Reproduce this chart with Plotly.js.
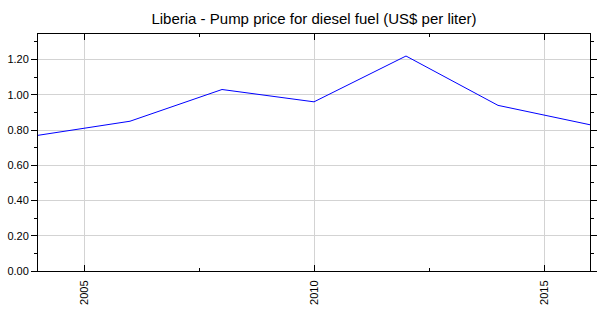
<!DOCTYPE html>
<html>
<head>
<meta charset="utf-8">
<script src="https://cdn.plot.ly/plotly-3.0.1.min.js"></script>
<style>html,body{margin:0;padding:0;background:#fff;}#chart{width:600px;height:315px;}</style>
</head>
<body>
<div id="chart"></div>
<script>
const years = [2004, 2006, 2008, 2010, 2012, 2014, 2016];
const prices = [0.77, 0.85, 1.03, 0.96, 1.22, 0.94, 0.83];
const xTickVals = [2005, 2010, 2015];
const xTickText = ["2005", "2010", "2015"];
const titleText = "Liberia - Pump price for diesel fuel (US$ per liter)";

const trace = {
  x: years, y: prices, type: 'scatter', mode: 'lines',
  line: {color: '#0000ff', width: 1}, hoverinfo: 'x+y'
};
const layout = {
  width: 600, height: 315,
  margin: {l: 38, r: 10, t: 34, b: 44, pad: 0},
  paper_bgcolor: '#ffffff', plot_bgcolor: '#ffffff',
  font: {family: 'Liberation Sans, Arial, sans-serif', color: '#000', size: 11},
  title: {text: titleText, x: 0.5, xref: 'paper', y: 0.94, yanchor: 'middle',
          font: {size: 15, family: 'Liberation Sans, Arial, sans-serif', color: '#000'}},
  showlegend: false,
  xaxis: {
    range: [2004, 2016], tickvals: xTickVals, ticktext: xTickText,
    tickangle: -90, ticks: 'inside', ticklen: 6, tickcolor: '#000',
    ticklabelstandoff: 4,
    showline: true, linecolor: '#000', linewidth: 1, mirror: 'ticks',
    showgrid: true, gridcolor: '#d3d3d3', gridwidth: 1, zeroline: false,
    minor: {ticks: 'inside', dtick: 2.5, tick0: 2005, ticklen: 3, tickcolor: '#000', showgrid: false},
    tickfont: {size: 11}
  },
  yaxis: {
    range: [0, 1.345], dtick: 0.2, tick0: 0, tickformat: '.2f',
    ticks: 'outside', ticklen: 6, tickcolor: '#000',
    showline: true, linecolor: '#000', linewidth: 1, mirror: 'ticks',
    showgrid: true, gridcolor: '#d3d3d3', gridwidth: 1, zeroline: false,
    minor: {ticks: 'outside', dtick: 0.1, ticklen: 3, tickcolor: '#000', showgrid: false},
    tickfont: {size: 11}
  }
};
Plotly.newPlot('chart', [trace], layout, {staticPlot: true, displayModeBar: false});
</script>
</body>
</html>
